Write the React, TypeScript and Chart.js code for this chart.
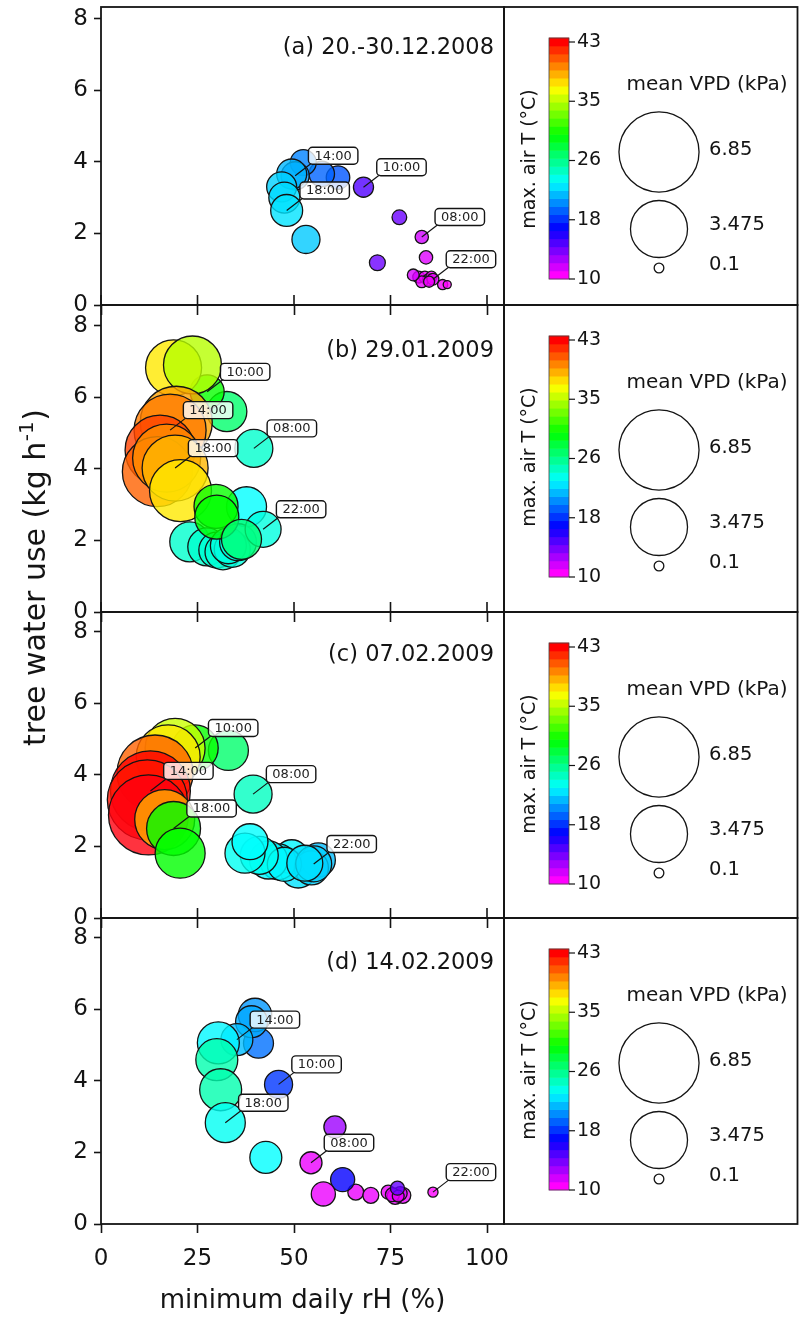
import React, { useEffect, useRef } from "react";
import { Chart, registerables } from "chart.js";

Chart.register(...registerables);

// ---------------- data ----------------
const HOURS = [
  "00:00", "01:00", "02:00", "03:00", "04:00", "05:00", "06:00", "07:00",
  "08:00", "09:00", "10:00", "11:00", "12:00", "13:00", "14:00", "15:00",
  "16:00", "17:00", "18:00", "19:00", "20:00", "21:00", "22:00", "23:00",
];
const LABELED_HOURS = [8, 10, 14, 18, 22];

const PANEL_TITLES = ["(a) 20.-30.12.2008", "(b) 29.01.2009", "(c) 07.02.2009", "(d) 14.02.2009"];

// (a) 20.-30.12.2008
const A_RH = [82.3, 83.9, 84.8, 88.5, 89.7, 85.6, 83.1, 84.2, 83.1, 77.3, 68.0, 61.4, 57.2, 52.4, 50.3, 49.4, 46.8, 47.5, 48.1, 53.1, 71.6, 80.9, 86.0, 85.0];
const A_TWU = [0.78, 0.78, 0.70, 0.57, 0.57, 0.79, 0.65, 1.33, 1.90, 2.45, 3.29, 3.56, 3.66, 3.98, 3.61, 3.66, 3.30, 3.00, 2.64, 1.83, 1.18, 0.84, 0.72, 0.65];
const A_VPD = [0.15, 0.15, 0.15, 0.11, 0.07, 0.13, 0.15, 0.19, 0.19, 0.23, 0.43, 0.59, 0.69, 0.72, 0.84, 0.96, 0.96, 1.03, 1.09, 0.84, 0.27, 0.15, 0.15, 0.13];
const A_TMAX = [10.8, 10.5, 10.5, 10.2, 10.0, 10.3, 10.5, 10.8, 11.2, 13.8, 14.5, 18.8, 19.2, 20.0, 20.5, 21.3, 22.0, 22.3, 22.5, 21.8, 13.8, 11.0, 10.5, 10.3];

// (b) 29.01.2009
const B_RH = [37.7, 23.0, 27.4, 30.0, 31.6, 34.0, 33.0, 35.5, 39.6, 32.6, 27.5, 18.8, 23.7, 19.5, 17.9, 15.3, 14.6, 17.0, 19.2, 20.6, 29.8, 30.0, 42.0, 36.4];
const B_TWU = [2.94, 1.96, 1.82, 1.73, 1.68, 1.75, 1.85, 1.95, 4.57, 5.60, 6.15, 6.82, 6.90, 5.30, 5.08, 4.52, 3.92, 4.30, 4.02, 3.39, 2.95, 2.65, 2.31, 2.03];
const B_VPD = [1.71, 1.71, 1.54, 1.38, 1.38, 1.38, 1.38, 1.45, 1.54, 1.71, 1.24, 3.35, 3.59, 5.54, 5.54, 5.23, 5.23, 4.94, 4.65, 4.10, 2.07, 2.07, 1.38, 1.71];
const B_TMAX = [23.2, 24.5, 24.5, 24.3, 24.3, 24.0, 24.0, 24.0, 24.5, 27.0, 30.0, 37.0, 34.5, 38.8, 39.8, 41.3, 40.5, 39.3, 38.3, 37.0, 30.0, 29.8, 24.0, 26.8];

// (c) 07.02.2009
const C_RH = [51.1, 49.4, 45.9, 43.4, 56.3, 54.5, 47.5, 41.0, 39.4, 33.0, 24.4, 19.2, 17.4, 14.0, 12.8, 12.0, 12.3, 16.5, 18.8, 20.5, 37.3, 38.6, 55.1, 52.8];
const C_TWU = [1.34, 1.71, 1.57, 1.62, 1.62, 1.40, 1.50, 1.75, 3.46, 4.68, 4.75, 4.74, 4.50, 4.05, 3.55, 3.30, 2.88, 2.75, 2.50, 1.81, 1.81, 2.13, 1.51, 1.53];
const C_VPD = [1.38, 1.24, 1.38, 1.54, 1.24, 1.24, 1.24, 1.54, 1.54, 1.71, 2.26, 3.84, 4.37, 6.17, 6.83, 6.83, 6.83, 3.84, 3.11, 2.67, 1.71, 1.38, 1.38, 1.38];
const C_TMAX = [22.5, 23.0, 23.0, 23.0, 21.5, 22.0, 23.0, 23.5, 24.8, 27.0, 30.0, 35.0, 37.0, 40.5, 43.0, 42.5, 43.4, 38.5, 29.8, 29.8, 23.5, 23.2, 22.0, 22.5];

// (d) 14.02.2009
const D_RH = [66.0, 69.9, 74.4, 76.2, 78.2, 77.5, 75.5, 77.0, 54.4, 60.6, 46.0, 40.8, 39.9, 39.0, 35.2, 30.4, 30.0, 31.0, 32.2, 42.7, 62.6, 57.6, 86.0, 76.8];
const D_TWU = [0.89, 0.80, 0.89, 0.77, 0.80, 0.85, 0.82, 0.78, 1.71, 2.71, 3.90, 5.05, 5.84, 5.65, 5.15, 5.06, 4.59, 3.75, 2.83, 1.86, 1.24, 0.84, 0.89, 1.00];
const D_VPD = [0.27, 0.27, 0.21, 0.27, 0.27, 0.21, 0.21, 0.15, 0.52, 0.52, 0.84, 0.96, 1.19, 1.09, 1.09, 1.88, 1.88, 1.88, 1.71, 1.09, 0.62, 0.62, 0.11, 0.21];
const D_TMAX = [10.5, 10.5, 10.5, 10.5, 10.5, 11.0, 10.5, 10.5, 10.5, 12.5, 18.0, 19.5, 20.5, 21.0, 21.5, 23.0, 25.3, 25.3, 23.5, 23.2, 16.5, 10.5, 10.0, 14.0];

const X_TICKS = [0, 25, 50, 75, 100];
const Y_TICKS = [0, 2, 4, 6, 8];
const TEMP_TICKS = [43, 35, 26, 18, 10];
const TEMP_MIN = 10;
const TEMP_MAX = 43;
const VPD_LEGEND = [6.85, 3.475, 0.1];

const X_TITLE = "minimum daily rH (%)";
const Y_TITLE_MAIN = "tree water use (kg h";
const Y_TITLE_SUP = "-1";
const Y_TITLE_END = ")";
const TEMP_TITLE = "max. air T (\u00B0C)";
const VPD_TITLE = "mean VPD (kPa)";

const PANELS = [
  { rh: A_RH, twu: A_TWU, vpd: A_VPD, tmax: A_TMAX },
  { rh: B_RH, twu: B_TWU, vpd: B_VPD, tmax: B_TMAX },
  { rh: C_RH, twu: C_TWU, vpd: C_VPD, tmax: C_TMAX },
  { rh: D_RH, twu: D_TWU, vpd: D_VPD, tmax: D_TMAX },
];

// ---------------- layout / style ----------------
const FONT = "'DejaVu Sans', sans-serif";
const INK = "#141414";
const FIG_W = 799;
const FIG_H = 1319;
const PLOT_LEFT = 101;
const PLOT_RIGHT = 504;
const LEGEND_RIGHT = 797.5;
const X_PX_PER_UNIT = 3.86;
const Y_PX_PER_UNIT = 35.8;
const GEOM = [
  { canvasTop: 0, boxTop: 7, boxBottom: 305, canvasBottom: 319, titleDy: 41 },
  { canvasTop: 301, boxTop: 305, boxBottom: 612, canvasBottom: 626, titleDy: 46.5 },
  { canvasTop: 608, boxTop: 612, boxBottom: 918, canvasBottom: 932, titleDy: 43.5 },
  { canvasTop: 914, boxTop: 918, boxBottom: 1224, canvasBottom: FIG_H, titleDy: 45 },
];
const LABEL_DX = 38;
const LABEL_DY = -20;
const VPD_R_SCALE = 15.3;
const POINT_ALPHA = 0.8;
const Y_TITLE_CX = 37;
const Y_TITLE_CY = 578;
const X_TITLE_CY = 1301;
const N_BANDS = 30;

function hsvToRgb(h: number): number[] {
  const hp = (((h % 360) + 360) % 360) / 60;
  const x = 1 - Math.abs((hp % 2) - 1);
  let r = 0, g = 0, b = 0;
  if (hp < 1) { r = 1; g = x; }
  else if (hp < 2) { r = x; g = 1; }
  else if (hp < 3) { g = 1; b = x; }
  else if (hp < 4) { g = x; b = 1; }
  else if (hp < 5) { r = x; b = 1; }
  else { r = 1; b = x; }
  return [r, g, b].map((v) => Math.round(v * 255));
}

function tempColor(t: number, a: number): string {
  const h = (300 * (TEMP_MAX - t)) / (TEMP_MAX - TEMP_MIN);
  const [r, g, b] = hsvToRgb(h);
  return `rgba(${r},${g},${b},${a})`;
}

function makePlugin(idx: number) {
  const g = GEOM[idx];
  const d = PANELS[idx];
  const isLast = idx === PANELS.length - 1;
  return {
    id: "panelExtras" + idx,
    afterDatasetsDraw(chart: any) {
      const ctx = chart.ctx;
      const xs = chart.scales.x;
      const ys = chart.scales.y;
      ctx.save();
      ctx.font = `13px ${FONT}`;
      for (const h of LABELED_HOURS) {
        const px = xs.getPixelForValue(d.rh[h]);
        const py = ys.getPixelForValue(d.twu[h]);
        const text = HOURS[h];
        const tw = ctx.measureText(text).width;
        const bw = tw + 12;
        const bh = 17;
        const cx = px + LABEL_DX;
        const cy = py + LABEL_DY;
        const bx = cx - bw / 2;
        const by = cy - bh / 2;
        ctx.strokeStyle = INK;
        ctx.lineWidth = 1.2;
        ctx.beginPath();
        ctx.moveTo(px, py);
        ctx.lineTo(bx + 3, by + bh - 1);
        ctx.stroke();
        ctx.beginPath();
        if ((ctx as any).roundRect) (ctx as any).roundRect(bx, by, bw, bh, 4);
        else ctx.rect(bx, by, bw, bh);
        ctx.fillStyle = "rgba(255,255,255,0.8)";
        ctx.fill();
        ctx.lineWidth = 1.4;
        ctx.stroke();
        ctx.fillStyle = "#222";
        ctx.textAlign = "center";
        ctx.textBaseline = "middle";
        ctx.fillText(text, cx, cy + 0.5);
      }
      ctx.restore();
    },
    afterDraw(chart: any) {
      const ctx = chart.ctx;
      const ca = chart.chartArea;
      const xs = chart.scales.x;
      const top = ca.top;
      const bottom = ca.bottom;
      ctx.save();
      // frames
      ctx.strokeStyle = INK;
      ctx.lineWidth = 1.8;
      ctx.strokeRect(ca.left, top, ca.right - ca.left, bottom - top);
      ctx.strokeRect(ca.right, top, LEGEND_RIGHT - ca.right, bottom - top);
      // inner halves of the shared x ticks between panels
      if (!isLast) {
        ctx.lineWidth = 1.6;
        for (const v of X_TICKS) {
          const x = xs.getPixelForValue(v);
          ctx.beginPath();
          ctx.moveTo(x, bottom - 10);
          ctx.lineTo(x, bottom);
          ctx.stroke();
        }
      }
      // panel title
      ctx.fillStyle = INK;
      ctx.font = `22.5px ${FONT}`;
      ctx.textAlign = "right";
      ctx.textBaseline = "middle";
      ctx.fillText(PANEL_TITLES[idx], 494, top + g.titleDy);

      // ---- legend: colour bar ----
      const cbX0 = 549, cbX1 = 569;
      const cbT = top + 31, cbB = top + 272;
      const bandH = (cbB - cbT) / N_BANDS;
      for (let k = 0; k < N_BANDS; k++) {
        const hue = 300 * (1 - k / (N_BANDS - 1));
        const [r, gg, b] = hsvToRgb(hue);
        ctx.fillStyle = `rgb(${r},${gg},${b})`;
        const y0 = cbB - (k + 1) * bandH;
        ctx.fillRect(cbX0, y0 - 0.3, cbX1 - cbX0, bandH + 0.6);
      }
      ctx.strokeStyle = "#444";
      ctx.lineWidth = 0.8;
      ctx.strokeRect(cbX0, cbT, cbX1 - cbX0, cbB - cbT);
      ctx.strokeStyle = INK;
      ctx.lineWidth = 1.2;
      ctx.fillStyle = INK;
      ctx.font = `19px ${FONT}`;
      ctx.textAlign = "left";
      ctx.textBaseline = "middle";
      const tk0 = top + 35, tk1 = top + 272;
      TEMP_TICKS.forEach((t, i) => {
        const y = tk0 + (i * (tk1 - tk0)) / (TEMP_TICKS.length - 1);
        ctx.beginPath();
        ctx.moveTo(cbX1, y);
        ctx.lineTo(cbX1 + 6, y);
        ctx.stroke();
        ctx.fillText(String(t), 577, y);
      });
      ctx.save();
      ctx.translate(530, top + 152);
      ctx.rotate(-Math.PI / 2);
      ctx.textAlign = "center";
      ctx.textBaseline = "middle";
      ctx.fillText(TEMP_TITLE, 0, 0);
      ctx.restore();

      // ---- legend: bubble sizes ----
      ctx.font = `20px ${FONT}`;
      ctx.textAlign = "center";
      ctx.fillText(VPD_TITLE, 707, top + 78);
      const circleY = [145, 222, 261];
      const labelY = [143, 218, 258];
      ctx.font = `19.5px ${FONT}`;
      ctx.textAlign = "left";
      ctx.lineWidth = 1.3;
      VPD_LEGEND.forEach((v, i) => {
        ctx.beginPath();
        ctx.arc(659, top + circleY[i], VPD_R_SCALE * Math.sqrt(v), 0, Math.PI * 2);
        ctx.stroke();
        ctx.fillText(String(v), 709, top + labelY[i]);
      });

      // ---- shared y-axis title (each canvas draws its own slice) ----
      ctx.save();
      const clipTop = idx === 0 ? 0 : top;
      const clipBottom = isLast ? chart.height : bottom;
      ctx.beginPath();
      ctx.rect(0, clipTop, 70, clipBottom - clipTop);
      ctx.clip();
      ctx.translate(Y_TITLE_CX, Y_TITLE_CY - g.canvasTop);
      ctx.rotate(-Math.PI / 2);
      ctx.textBaseline = "middle";
      ctx.textAlign = "left";
      ctx.font = `30px ${FONT}`;
      const w1 = ctx.measureText(Y_TITLE_MAIN).width;
      const w3 = ctx.measureText(Y_TITLE_END).width;
      ctx.font = `20px ${FONT}`;
      const w2 = ctx.measureText(Y_TITLE_SUP).width;
      const x0 = -(w1 + w2 + w3) / 2;
      ctx.font = `30px ${FONT}`;
      ctx.fillText(Y_TITLE_MAIN, x0, 0);
      ctx.fillText(Y_TITLE_END, x0 + w1 + w2 + 1, 0);
      ctx.font = `20px ${FONT}`;
      ctx.fillText(Y_TITLE_SUP, x0 + w1 + 0.5, -9);
      ctx.restore();

      // ---- x-axis title on the bottom panel ----
      if (isLast) {
        ctx.font = `26px ${FONT}`;
        ctx.textAlign = "center";
        ctx.textBaseline = "middle";
        ctx.fillText(X_TITLE, (PLOT_LEFT + PLOT_RIGHT) / 2, X_TITLE_CY - g.canvasTop);
      }
      ctx.restore();
    },
  };
}

function Panel({ idx }: { idx: number }) {
  const ref = useRef<HTMLCanvasElement | null>(null);
  const g = GEOM[idx];
  const H = g.canvasBottom - g.canvasTop;
  useEffect(() => {
    const d = PANELS[idx];
    const isLast = idx === PANELS.length - 1;
    const points = d.rh.map((x, i) => ({ x, y: d.twu[i], r: VPD_R_SCALE * Math.sqrt(d.vpd[i]) }));
    const chart = new Chart(ref.current as HTMLCanvasElement, {
      type: "bubble",
      data: {
        datasets: [
          {
            data: points,
            backgroundColor: d.tmax.map((t) => tempColor(t, POINT_ALPHA)),
            borderColor: INK,
            borderWidth: 1.3,
          },
        ],
      },
      options: {
        responsive: false,
        animation: false,
        events: [],
        layout: {
          autoPadding: false,
          padding: { left: 0, right: FIG_W - PLOT_RIGHT, top: g.boxTop - g.canvasTop, bottom: 0 },
        },
        plugins: { legend: { display: false }, tooltip: { enabled: false }, title: { display: false } },
        scales: {
          x: {
            type: "linear",
            min: 0,
            max: (PLOT_RIGHT - PLOT_LEFT) / X_PX_PER_UNIT,
            afterBuildTicks: (s: any) => {
              s.ticks = X_TICKS.map((v) => ({ value: v }));
            },
            afterFit: (s: any) => {
              s.height = g.canvasBottom - g.boxBottom;
              s.paddingLeft = 0;
              s.paddingRight = 0;
              s.paddingTop = 0;
              s.paddingBottom = 0;
            },
            grid: {
              drawOnChartArea: false,
              drawTicks: true,
              tickLength: isLast ? 9 : 10,
              tickColor: INK,
              tickWidth: 1.6,
            },
            border: { display: false },
            ticks: { display: isLast, font: { family: FONT, size: 23 }, color: INK, padding: 12, maxRotation: 0 },
          },
          y: {
            type: "linear",
            min: 0,
            max: (g.boxBottom - g.boxTop) / Y_PX_PER_UNIT,
            afterBuildTicks: (s: any) => {
              s.ticks = Y_TICKS.map((v) => ({ value: v }));
            },
            afterFit: (s: any) => {
              s.width = PLOT_LEFT;
              s.paddingTop = 0;
              s.paddingBottom = 0;
              s.paddingLeft = 0;
              s.paddingRight = 0;
            },
            grid: {
              drawOnChartArea: false,
              drawTicks: true,
              tickLength: 7,
              tickColor: INK,
              tickWidth: 1.6,
            },
            border: { display: false },
            ticks: { font: { family: FONT, size: 23 }, color: INK, padding: 6 },
          },
        },
      } as any,
      plugins: [makePlugin(idx)],
    });
    return () => chart.destroy();
  }, [idx]);
  return (
    <canvas
      ref={ref}
      width={FIG_W}
      height={H}
      style={{ position: "absolute", left: 0, top: g.canvasTop, width: FIG_W, height: H }}
    />
  );
}

export default function App() {
  return (
    <div style={{ position: "absolute", left: 0, top: 0, width: FIG_W, height: FIG_H, background: "#fff" }}>
      {PANELS.map((_, i) => (
        <Panel key={i} idx={i} />
      ))}
    </div>
  );
}
